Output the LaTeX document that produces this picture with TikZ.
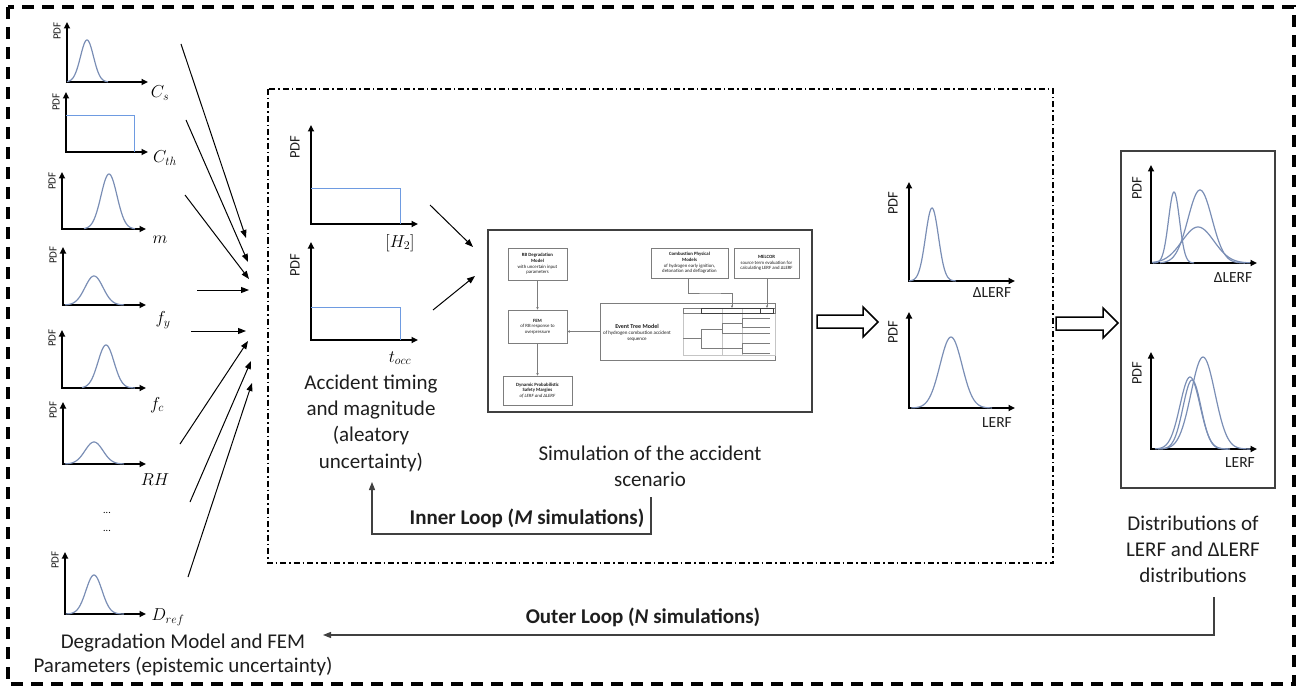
\documentclass[tikz,border=0pt]{standalone}
\usepackage{fontspec}
\setmainfont{Carlito}
\usetikzlibrary{arrows.meta}
\definecolor{curveblue}{RGB}{122,142,181}
\definecolor{unifblue}{RGB}{110,155,225}
\definecolor{dgray}{RGB}{64,64,64}
\definecolor{mgray}{RGB}{125,125,125}
\definecolor{txt}{RGB}{30,30,30}
\newcommand{\fsz}[2]{\fontsize{#1}{#2}\selectfont}
\newcommand{\AxesPlot}[4]{\draw[axisline] (#1,#2) -- (#1,#3) -- (#4,#3);}
\newcommand{\GaussPlot}[6]{\draw[gcurve] plot[domain=#5:#6,samples=70,smooth] (\x,{#1-#2*exp(-0.5*((\x-#3)/#4)*((\x-#3)/#4))});}
\tikzset{
  axisline/.style={line width=1.8pt, {Triangle[length=6.5pt,width=6pt]}-{Triangle[length=6.5pt,width=6pt]}},
  gcurve/.style={draw=curveblue, line width=1.2pt},
  ucurve/.style={draw=unifblue, line width=0.9pt},
  conn/.style={line width=1pt, -{Triangle[length=8pt,width=6pt]}},
  loopline/.style={draw=dgray, line width=1.1pt, -{Triangle[length=8pt,width=6pt]}},
  pdfs/.style={rotate=90, font=\fsz{11}{12}, text=txt, inner sep=0pt},
  pdfb/.style={rotate=90, font=\fsz{14.5}{16}, text=txt, inner sep=0pt},
  mlab/.style={font=\fsz{16.5}{18}, inner sep=0pt},
  captext/.style={font=\fsz{21}{24.5}, align=center, text=txt, inner sep=0pt},
  axlab/.style={font=\fsz{15.5}{17}, text=txt, inner sep=0pt},
  looptext/.style={font=\fsz{21}{23}\bfseries, text=txt, inner sep=0pt},
  minibox/.style={draw=mgray, line width=0.7pt, fill=white, align=center, font=\fsz{4.8}{5.6}, inner sep=1pt, text=txt},
  miniconn/.style={draw=mgray, line width=0.6pt, -{Triangle[length=2.5pt,width=2.2pt]}},
  tree/.style={draw=mgray!45, line width=0.4pt},
  hollow/.style={draw=black, line width=1.5pt, fill=white, line join=miter},
}
\begin{document}
\begin{tikzpicture}[x=1pt,y=-1pt]
\useasboundingbox (0,0) rectangle (1301,687);

% outer dashed frame
\draw[line width=3.4pt, dash pattern=on 12pt off 8pt] (8,7) rectangle (1294,684);
% inner dash-dot frame
\draw[line width=1.2pt, dash pattern=on 6pt off 3pt on 1.5pt off 3pt] (268,89) rectangle (1053,563);

% ---------- left column of parameter PDFs ----------
% C_s
\AxesPlot{67}{22}{82}{148}
\GaussPlot{82}{42}{87}{6.5}{67}{108}
\node[pdfs] (p1) at (57,31) {PDF};
\node[mlab] (l1) at (160,93) {$C_s$};
% C_th
\AxesPlot{66}{92}{152}{148}
\draw[ucurve] (66,115) -- (134,115) -- (134,152);
\node[pdfs] (p2) at (56,102) {PDF};
\node[mlab] (l2) at (165,158) {$C_{th}$};
% m
\AxesPlot{62}{172}{229}{146}
\GaussPlot{229}{55}{109}{8}{84}{135}
\node[pdfs] (p3) at (52,181) {PDF};
\node[mlab] (l3) at (160,240) {$m$};
% f_y
\AxesPlot{63}{247}{305}{146}
\GaussPlot{305}{29}{94}{9}{65}{124}
\node[pdfs] (p4) at (53,255) {PDF};
\node[mlab] (l4) at (163,320) {$f_y$};
% f_c
\AxesPlot{62}{330}{388}{146}
\GaussPlot{388}{43}{106}{8}{82}{135}
\node[pdfs] (p5) at (52,338) {PDF};
\node[mlab] (l5) at (157,405) {$f_c$};
% RH
\AxesPlot{63}{402}{464}{146}
\GaussPlot{464}{22}{94}{9}{65}{124}
\node[pdfs] (p6) at (53,410) {PDF};
\node[mlab] (l6) at (155,480) {$RH$};
% dots
\node[font=\fsz{10}{12}] (d1) at (107,513) {...};
\node[font=\fsz{10}{12}] (d2) at (107,531) {...};
% D_ref
\AxesPlot{65}{552}{614}{146}
\GaussPlot{614}{39}{94}{8}{66}{124}
\node[pdfs] (p7) at (55,560) {PDF};
\node[mlab] (l7) at (168,617) {$D_{ref}$};

\node[captext] (capL) at (183,655) {Degradation Model and FEM\\Parameters (epistemic uncertainty)};

% arrows from parameters
\coordinate (s1) at (181,44);  \coordinate (t1) at (246,238);
\coordinate (s2) at (186,120); \coordinate (t2) at (248,262);
\coordinate (s3) at (185,195); \coordinate (t3) at (249,279);
\coordinate (s4) at (197,290); \coordinate (t4) at (249,290);
\coordinate (s5) at (191,331); \coordinate (t5) at (246,331);
\coordinate (s6) at (180,444); \coordinate (t6) at (248,341);
\coordinate (s7) at (190,502); \coordinate (t7) at (251,361);
\coordinate (s8) at (188,577); \coordinate (t8) at (252,383);
\foreach \i in {1,...,8} {\draw[conn] (s\i) -- (t\i);}

% ---------- aleatory PDFs ----------
\AxesPlot{311}{125}{224}{418}
\draw[ucurve] (311,188) -- (400,188) -- (400,224);
\node[pdfb] (pH) at (295,147) {PDF};
\node[mlab] (lH) at (400,243) {$[H_2]$};
\AxesPlot{311}{242}{340}{418}
\draw[ucurve] (311,307) -- (400,307) -- (400,340);
\node[pdfb] (pT) at (295,265) {PDF};
\node[mlab] (lT) at (400,358) {$t_{occ}$};
\node[captext, font=\fsz{21}{26.3}] (capA) at (371,423) {Accident timing\\and magnitude\\(aleatory\\uncertainty)};

\coordinate (a1s) at (430,205); \coordinate (a1t) at (473,247);
\coordinate (a2s) at (433,310); \coordinate (a2t) at (475,276);
\draw[conn] (a1s) -- (a1t);
\draw[conn] (a2s) -- (a2t);

% ---------- simulation box ----------
\draw[draw=dgray, line width=1.4pt] (488,230) rectangle (812,412);
\node[minibox, minimum width=175pt, minimum height=57pt] (ET) at (687.5,331.5) {};
\node[align=center, font=\fsz{5}{5.8}, text=txt, inner sep=0pt] (ETt) at (637,333) {\textbf{\fsz{6}{7}Event Tree Model}\\of hydrogen combustion accident\\sequence};
\node[minibox, minimum width=59pt, minimum height=32pt] (RB) at (537.5,264) {\textbf{RB Degradation}\\\textbf{Model}\\with uncertain input\\parameters};
\node[minibox, minimum width=59pt, minimum height=33pt] (FEM) at (537.5,326.5) {\textbf{FEM}\\of RB response to\\overpressure};
\node[minibox, minimum width=69pt, minimum height=29pt] (DP) at (537.5,390.5) {\textbf{Dynamic Probabilistic}\\\textbf{Safety Margins}\\\textit{of LERF and ΔLERF}};
\node[minibox, minimum width=77pt, minimum height=30pt] (CP) at (689.5,263) {\textbf{Combustion Physical}\\\textbf{Models}\\of hydrogen early ignition,\\detonation and deflagration};
\node[minibox, minimum width=65pt, minimum height=30pt] (MEL) at (766.5,263) {\textbf{MELCOR}\\source term evaluation for\\calculating LERF and ΔLERF};
\draw[miniconn] (RB) -- (FEM);
\draw[miniconn] (FEM) -- (DP);
\draw[miniconn] (ET.west) -- (ET.west -| FEM.east);
% event tree drawing
\draw[tree] (683,308) rectangle (775,355);
\foreach \xx in {722,742} {\draw[tree] (\xx,308) -- (\xx,355);}
\draw[mgray, line width=0.5pt] (683,308) rectangle (775,313);
\draw[dgray, line width=0.7pt] (701,308) rectangle (760,313);
\draw[dgray, line width=0.7pt] (760,308) rectangle (773,313);
\draw[mgray, line width=0.5pt] (683,338) -- (701,338) (701,329) -- (701,348)
  (701,329) -- (722,329) (722,323) -- (722,333)
  (722,323) -- (742,323) (742,318) -- (742,327) (742,318) -- (770,318) (742,327) -- (770,327)
  (722,333) -- (770,333)
  (701,348) -- (742,348) (742,343) -- (742,353) (742,343) -- (770,343) (742,353) -- (770,353);
\coordinate (hdrA) at (732,308);
\coordinate (hdrB) at (767,308);
\draw[miniconn] (688,278) |- (710,293) -| (hdrA);
\draw[miniconn] (767,278) -- (hdrB);

\node[captext, font=\fsz{21}{26}] (capS) at (650,466) {Simulation of the accident\\scenario};

% inner loop
\coordinate (il1) at (651,497);
\coordinate (il2) at (372,482);
\draw[loopline] (il1) -- (651,534) -| (il2);
\node[looptext] (ILt) at (527,518) {Inner Loop (\textit{M} simulations)};

% hollow arrows
\draw[hollow] (817,315) -- (863,315) -- (863,307) -- (878,322) -- (863,337) -- (863,328) -- (817,328) -- cycle;
\draw[hollow] (1056,317) -- (1103,317) -- (1103,308) -- (1118,323) -- (1103,338) -- (1103,330) -- (1056,330) -- cycle;

% ---------- single-run output PDFs ----------
\AxesPlot{909}{182}{281}{1015}
\GaussPlot{281}{73}{932}{6.5}{909}{956}
\node[pdfb] (pD) at (893,203) {PDF};
\node[axlab] (lD) at (992,293) {ΔLERF};
\AxesPlot{909}{312}{408}{1015}
\GaussPlot{408}{71}{951}{11}{911}{992}
\node[pdfb] (pL) at (893,332) {PDF};
\node[axlab] (lL) at (997,423) {LERF};

% ---------- distributions box ----------
\draw[draw=dgray, line width=1.2pt] (1121,151) rectangle (1275,488);
\AxesPlot{1151}{165}{263}{1257}
\GaussPlot{263}{71}{1174}{5.5}{1153}{1194}
\GaussPlot{263}{73}{1200}{12}{1160}{1245}
\GaussPlot{263}{36}{1198}{16}{1152}{1250}
\node[pdfb] (pD2) at (1137,188) {PDF};
\node[axlab] (lD2) at (1233,278) {ΔLERF};
\AxesPlot{1151}{352}{449}{1257}
\GaussPlot{449}{92}{1203}{12}{1160}{1250}
\GaussPlot{449}{72}{1190}{10}{1155}{1230}
\GaussPlot{449}{69}{1192}{9}{1158}{1228}
\node[pdfb] (pL2) at (1137,373) {PDF};
\node[axlab] (lL2) at (1240,463) {LERF};
\node[captext, font=\fsz{21}{26}] (capR) at (1193,549) {Distributions of\\LERF and ΔLERF\\distributions};

% outer loop
\coordinate (ol1) at (1214,597);
\coordinate (ol2) at (323,635);
\draw[loopline] (ol1) |- (ol2);
\node[looptext] (OLt) at (643,617) {Outer Loop (\textit{N} simulations)};
\end{tikzpicture}
\end{document}
